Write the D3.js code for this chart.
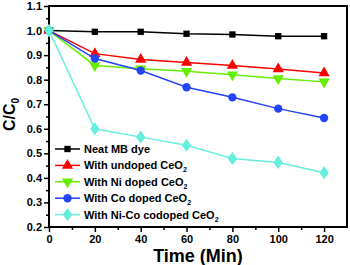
<!doctype html>
<html lang="en">
  <head>
    <meta charset="utf-8">
    <title>C/C0 vs Time</title>
    <script src="https://d3js.org/d3.v7.min.js"></script>
    <style>
      body { margin: 0; background: #fff; }
      text { font-family: Arial, "Liberation Sans", sans-serif; font-weight: bold; }
    </style>
  </head>
  <body>
    <script>

      var times = [0, 20, 40, 60, 80, 100, 120];
      var neat   = [1.0, 0.995, 0.995, 0.987, 0.984, 0.977, 0.977];
      var undoped = [1.0, 0.906, 0.882, 0.870, 0.858, 0.843, 0.827];
      var niDoped = [1.0, 0.858, 0.844, 0.834, 0.820, 0.805, 0.791];
      var coDoped = [1.0, 0.886, 0.837, 0.769, 0.728, 0.682, 0.644];
      var niCo    = [1.0, 0.600, 0.566, 0.533, 0.479, 0.463, 0.421];

      var labels = ["Neat MB dye", "With undoped CeO", "With Ni doped CeO", "With Co doped CeO", "With Ni-Co codoped CeO"];
      var xTicks = [0, 20, 40, 60, 80, 100, 120];
      var yTicks = [0.2, 0.3, 0.4, 0.5, 0.6, 0.7, 0.8, 0.9, 1.0, 1.1];

      var series = [
        {name: labels[0], values: neat,    color: "#000000", shape: "square", sub: false},
        {name: labels[1], values: undoped, color: "#ff0000", shape: "up", sub: true},
        {name: labels[2], values: niDoped, color: "#66ee00", shape: "down", sub: true},
        {name: labels[3], values: coDoped, color: "#2244ff", shape: "circle", sub: true},
        {name: labels[4], values: niCo,    color: "#66eedd", shape: "diamond", sub: true}
      ];

      var margin = {top: 6, right: 3, bottom: 38, left: 49},
          width = 350 - margin.left - margin.right,
          height = 265 - margin.top - margin.bottom;

      var svg = d3.select("body").append("svg")
          .attr("width", 350)
          .attr("height", 265)
        .append("g")
          .attr("transform", "translate(" + margin.left + "," + margin.top + ")");

      var x = d3.scaleLinear().domain([0, 130]).range([0, width]);
      var y = d3.scaleLinear().domain([0.2, 1.1]).range([height, 0]);

      // minor ticks
      svg.append("g")
          .attr("transform", "translate(0," + height + ")")
          .call(d3.axisBottom(x).tickValues(d3.range(10, 130, 20)).tickSize(3).tickFormat(""))
          .call(g => g.select(".domain").remove());
      svg.append("g")
          .call(d3.axisLeft(y).tickValues(d3.range(0.25, 1.1, 0.1)).tickSize(3).tickFormat(""))
          .call(g => g.select(".domain").remove());

      var xAxis = svg.append("g")
          .attr("transform", "translate(0," + height + ")")
          .call(d3.axisBottom(x).tickValues(xTicks).tickSize(5).tickPadding(3));
      var yAxis = svg.append("g")
          .call(d3.axisLeft(y).tickValues(yTicks).tickSize(5).tickPadding(2).tickFormat(d3.format(".1f")));

      [xAxis, yAxis].forEach(function(a){
        a.select(".domain").remove();
        a.selectAll("text").style("font-size", "11px").attr("fill", "#000");
      });
      svg.selectAll(".tick line").attr("stroke-width", 1.5).attr("stroke", "#000");

      svg.append("rect")
          .attr("width", width).attr("height", height)
          .attr("fill", "none").attr("stroke", "#000").attr("stroke-width", 2);

      var symbols = {
        square: d3.symbol().type(d3.symbolSquare).size(40),
        up: d3.symbol().type(d3.symbolTriangle).size(55),
        down: d3.symbol().type(d3.symbolTriangle).size(55),
        circle: d3.symbol().type(d3.symbolCircle).size(55),
        diamond: d3.symbol().type(d3.symbolDiamond).size(50)
      };

      var line = d3.line()
          .x(function(d, i){ return x(times[i]); })
          .y(function(d){ return y(d); });

      function marker(g, s, px, py){
        g.append("path")
            .attr("d", symbols[s.shape]())
            .attr("fill", s.color)
            .attr("transform", "translate(" + px + "," + py + ")" + (s.shape === "down" ? " rotate(180)" : "") +
                  (s.shape === "diamond" ? " scale(1.25,1)" : ""));
      }

      series.forEach(function(s){
        svg.append("path")
            .attr("d", line(s.values))
            .attr("fill", "none")
            .attr("stroke", s.color)
            .attr("stroke-width", 1.5);
        s.values.forEach(function(v, i){
          marker(svg, s, x(times[i]), y(v));
        });
      });

      // legend
      var legend = svg.append("g").attr("transform", "translate(6,143)");
      series.forEach(function(s, i){
        var g = legend.append("g").attr("transform", "translate(0," + (i * 16.4) + ")");
        g.append("line").attr("x1", 0).attr("x2", 25)
            .attr("stroke", s.color).attr("stroke-width", 1.5);
        marker(g, s, 12.5, 0);
        var t = g.append("text").attr("x", 29).attr("y", 4)
            .style("font-size", "11px").text(s.name);
        if (s.sub) {
          t.append("tspan").attr("dy", 3).style("font-size", "7px").text("2");
        }
      });

      svg.append("text")
          .attr("x", width / 2).attr("y", height + 35)
          .attr("text-anchor", "middle")
          .style("font-size", "18px")
          .text("Time (Min)");

      var yl = svg.append("text")
          .attr("transform", "translate(-34," + (height / 2 - 2) + ") rotate(-90)")
          .attr("text-anchor", "middle")
          .style("font-size", "16px")
          .text("C/C");
      yl.append("tspan").attr("dy", 4).style("font-size", "10px").text("0");

    </script>
  </body>
</html>
